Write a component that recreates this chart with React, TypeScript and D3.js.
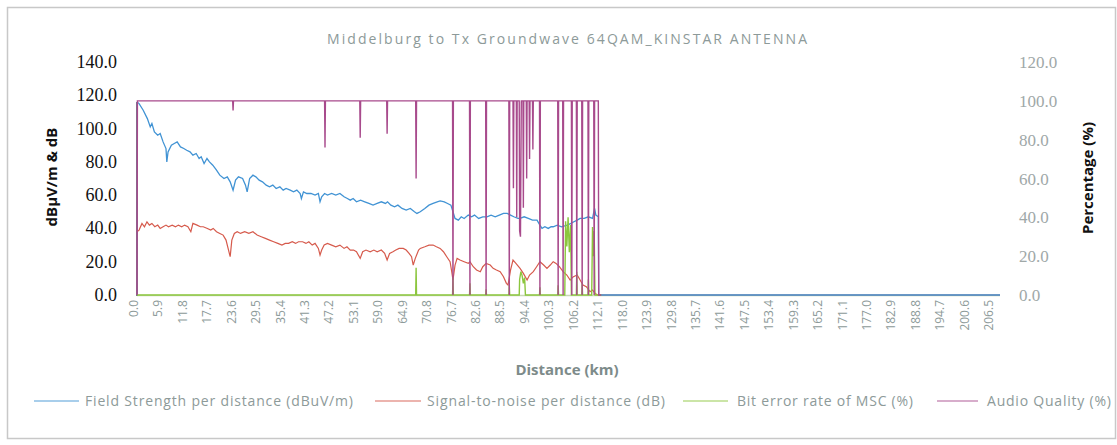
import React from "react";
import * as d3 from "d3";

const chartTitle = "Middelburg to Tx Groundwave 64QAM_KINSTAR ANTENNA";
const xTickLabels = ["0.0","5.9","11.8","17.7","23.6","29.5","35.4","41.3","47.2","53.1","59.0","64.9","70.8","76.7","82.6","88.5","94.4","100.3","106.2","112.1","118.0","123.9","129.8","135.7","141.6","147.5","153.4","159.3","165.2","171.1","177.0","182.9","188.8","194.7","200.6","206.5"];
const leftTicks = [0, 20, 40, 60, 80, 100, 120, 140];
const rightTicks = [0, 20, 40, 60, 80, 100, 120];
const xMax = 208.4;

// [distance km, dBuV/m]
const fieldStrength: [number, number][] = [
  [0,116],[0.5,115],[1.5,111],[2.5,106],[3.2,101],[3.6,103],[4.2,98],[5.0,96],[5.6,97],[6.3,92],[7.0,88],[7.2,80],[7.5,86],[8.3,90],[9.0,91],[9.7,92],[10.5,89],[11.3,88],[12.0,87],[12.8,86],[13.5,84],[14.3,85],[15.0,82],[15.5,83],[16.2,79],[16.9,82],[17.5,80],[18.3,78],[19.2,75],[20.0,72],[21.0,70],[21.8,71],[22.5,68],[23.2,63],[23.8,69],[24.5,71],[25.5,70],[26.2,66],[26.6,62],[27.2,70],[28.0,72],[28.7,71],[29.5,69],[30.3,68],[31.2,66],[32.0,65],[32.8,66],[33.6,64],[34.5,65],[35.3,63],[36.0,64],[37.0,63],[37.8,62],[38.6,63],[39.4,61],[39.7,58],[40.2,62],[41.0,61],[42.0,61],[43.0,60],[43.8,61],[44.2,56],[44.6,59],[45.3,61],[46.0,60],[47.0,61],[48.0,60],[49.0,61],[50.0,59],[50.8,58],[51.5,57],[52.2,58],[53.0,56],[54.0,57],[55.0,56],[56.0,55],[57.0,54],[58.0,55],[59.0,56],[60.0,55],[60.5,56],[61.3,54],[62.2,53],[63.0,54],[64.0,52],[65.0,51],[66.0,52],[67.0,50],[67.6,49],[68.4,50],[69.5,52],[70.5,54],[71.5,55],[72.5,56],[73.2,56.5],[74.2,56],[75.0,55],[75.8,54],[76.3,50],[76.8,46],[77.6,45],[78.3,47],[79.0,46],[80.0,48],[80.8,47],[81.5,48],[82.5,46],[83.5,47],[84.5,47],[85.5,48],[86.5,47],[87.5,48],[88.5,49],[89.4,49],[90.2,48],[91.0,47],[92.0,46],[92.5,46],[93.5,47],[94.5,46],[95.5,45],[96.6,45],[97.3,42],[97.8,40],[98.5,41],[99.3,40],[100.0,41],[100.5,41],[101.5,42],[102.5,41],[103.9,42],[104.8,43],[105.5,44],[106.3,45],[107.0,46],[108.0,46],[109.0,47],[110.0,46],[110.5,52],[110.8,48],[111.4,47],[111.5,0],[208.4,0]
];

// [distance km, dB]
const snr: [number, number][] = [
  [0,38],[0.5,39],[1.2,43],[1.8,41],[2.4,44],[3.0,42],[3.6,43],[4.3,41],[5.0,42],[5.6,40],[6.3,41],[7.0,42],[7.6,41],[8.5,42],[9.3,41],[10.0,42],[10.8,41],[11.5,42],[12.3,41],[13.0,38],[13.5,43],[14.5,42],[15.3,41],[16.0,41],[17.0,40],[17.8,39],[18.4,40],[19.2,38],[20.0,37],[20.8,36],[21.5,33],[22.0,28],[22.5,23],[22.9,33],[23.5,37],[24.2,38],[25.0,37],[26.0,38],[27.0,37],[28.0,38],[29.0,36],[30.0,35],[31.0,34],[32.0,33],[33.0,32],[34.0,31],[35.0,30],[35.8,31],[36.6,31],[37.5,32],[38.3,31],[39.0,32],[40.0,32],[40.8,31],[41.5,32],[42.3,30],[43.0,31],[43.8,28],[44.2,24],[44.6,27],[45.2,30],[46.0,31],[47.0,30],[48.0,29],[49.0,30],[50.0,28],[50.7,29],[51.5,27],[52.3,27],[53.0,26],[53.9,22],[54.5,26],[55.3,27],[56.3,26],[57.2,27],[58.0,26],[59.0,27],[59.8,25],[60.4,21],[61.0,25],[61.8,26],[62.5,27],[63.3,28],[64.3,28],[65.0,27],[65.7,25],[66.3,23],[66.7,18],[67.2,22],[68.0,27],[68.4,28],[69.5,29],[70.5,30],[71.5,30],[72.3,29],[73.2,28],[74.0,26],[74.8,23],[75.6,20],[76.0,14],[76.3,9],[76.8,18],[77.3,22],[78.0,21],[79.0,20],[80.0,19],[80.4,20],[81.2,17],[82.0,15],[82.9,14],[83.5,17],[84.3,19],[85.3,18],[86.0,16],[86.8,15],[87.7,14],[88.5,11],[89.2,7],[89.6,6],[90.2,15],[90.8,21],[91.5,19],[92.5,16],[93.3,13],[94.2,9],[94.8,12],[95.7,14],[96.5,17],[97.3,20],[98.2,18],[99.0,16],[99.8,18],[100.5,20],[101.2,19],[102.0,17],[102.9,14],[103.8,12],[104.6,9],[105.4,11],[106.3,12],[107.0,9],[107.7,6],[108.5,5],[109.4,2],[110.0,3],[110.6,1],[111.2,0],[208.4,0]
];

// [distance km, %]
const ber: [number, number][] = [
  [0,0],[67.3,0],[67.4,14],[67.5,0],[76.2,0],[76.3,9],[76.4,0],[80.3,0],[80.4,6],[80.5,0],[84.2,0],[84.3,3],[84.4,0],[89.8,0],[89.9,5],[90.0,0],[92.3,0],[92.4,8],[92.7,12],[93.0,10],[93.3,6],[93.6,9],[93.8,0],[97.2,0],[97.3,4],[97.4,0],[101.6,0],[101.7,5],[101.8,0],[103.3,0],[103.5,38],[103.8,25],[104.1,40],[104.4,22],[104.7,36],[104.9,0],[106.1,0],[106.2,12],[106.3,0],[107.4,0],[107.5,6],[107.6,0],[108.9,0],[109.0,8],[109.1,0],[109.8,0],[110.0,35],[110.2,20],[110.4,33],[110.6,0],[112.1,0]
];

// [distance km, %]
const audioQuality: [number, number][] = [
  [0,0],[0.1,100],[23.1,100],[23.2,95],[23.3,100],[45.3,100],[45.4,76],[45.5,100],[53.8,100],[53.9,81],[54.0,100],[60.3,100],[60.4,83],[60.5,100],[67.3,100],[67.4,60],[67.5,100],[76.2,100],[76.3,0],[76.4,100],[80.3,100],[80.4,0],[80.5,100],[84.2,100],[84.3,0],[84.4,100],[89.8,100],[89.9,0],[90.0,100],[90.8,100],[90.9,55],[91.0,100],[91.6,100],[91.7,40],[91.8,100],[92.3,100],[92.4,33],[92.6,30],[92.8,100],[93.2,100],[93.3,45],[93.4,100],[94.0,100],[94.1,60],[94.2,100],[94.7,100],[94.8,70],[94.9,100],[95.5,100],[95.6,75],[95.7,100],[97.2,100],[97.3,0],[97.4,100],[101.6,100],[101.7,0],[101.8,100],[102.8,100],[102.9,0],[103.0,100],[104.9,100],[105.0,0],[105.1,100],[106.1,100],[106.2,0],[106.3,100],[107.4,100],[107.5,0],[107.6,100],[108.9,100],[109.0,0],[109.1,100],[110.3,100],[110.4,0],[110.5,100],[111.4,100],[111.5,0],[112.1,0]
];

const seriesNames = ["Field Strength per distance (dBuV/m)", "Signal-to-noise per distance (dB)", "Bit error rate of MSC (%)", "Audio Quality (%)"];
const seriesColors = ["#4193d4", "#d65a4c", "#8cc63e", "#a84a8c"];

export default function App() {
  const W = 1117, H = 445;
  const x = d3.scaleLinear().domain([0, xMax]).range([137, 1000]);
  const yL = d3.scaleLinear().domain([0, 140]).range([295, 62]);
  const yR = d3.scaleLinear().domain([0, 120]).range([295, 62]);
  const lineL = d3.line<[number, number]>().x(d => x(d[0])).y(d => yL(d[1]));
  const lineR = d3.line<[number, number]>().x(d => x(d[0])).y(d => yR(d[1]));
  const gray = "#8d9a99";
  const legendItems = [
    { lx: 34, lw: 45, tx: 85, tl: 268 },
    { lx: 375, lw: 46, tx: 427, tl: 238 },
    { lx: 683, lw: 45, tx: 737, tl: 176 },
    { lx: 937, lw: 41, tx: 987, tl: 124 },
  ];
  return (
    <svg width={W} height={H} style={{ position: "absolute", left: 0, top: 0, background: "#fff" }}>
      <rect x={7.5} y={7.5} width={1108} height={431} fill="#fff" stroke="#c8c8c8" strokeWidth={1.5} />
      <text x={567} y={44} textAnchor="middle" fontFamily="Open Sans" fontSize={14} fill={gray} textLength={480} lengthAdjust="spacing">{chartTitle}</text>

      {/* left axis ticks */}
      {leftTicks.map(t => (
        <text key={"l" + t} x={117} y={yL(t) + 6} textAnchor="end" fontFamily="Liberation Serif" fontSize={18} fill="#111">{t.toFixed(1)}</text>
      ))}
      {rightTicks.map(t => (
        <text key={"r" + t} x={1019} y={yR(t) + 6} textAnchor="start" fontFamily="Liberation Serif" fontSize={17} fill="#a0a8a8">{t.toFixed(1)}</text>
      ))}
      <text transform={`translate(57,177) rotate(-90)`} textAnchor="middle" fontFamily="Open Sans" fontWeight="bold" fontSize={15} fill="#111">dBµV/m &amp; dB</text>
      <text transform={`translate(1093,178) rotate(-90)`} textAnchor="middle" fontFamily="Open Sans" fontWeight="bold" fontSize={15} fill="#111">Percentage (%)</text>

      {/* x axis labels */}
      {xTickLabels.map(l => (
        <text key={"x" + l} transform={`translate(${x(parseFloat(l)) + 1},300) rotate(-90)`} textAnchor="end" fontFamily="Open Sans" fontSize={12} fill={gray}>{l}</text>
      ))}
      <text x={567} y={375} textAnchor="middle" fontFamily="Open Sans" fontWeight="bold" fontSize={15} fill="#7d8b8a">Distance (km)</text>

      {/* axes */}
      <line x1={137} x2={1000} y1={295.5} y2={295.5} stroke="#c9d8b8" strokeWidth={1.5} />
      <line x1={137} x2={137} y1={102} y2={296} stroke="#4a4a6a" strokeWidth={1.5} />

      {/* series */}
      <path d={lineL(snr) || ""} fill="none" stroke={seriesColors[1]} strokeWidth={1.2} />
      <path d={lineL(fieldStrength) || ""} fill="none" stroke={seriesColors[0]} strokeWidth={1.3} />
      <path d={lineR(ber) || ""} fill="none" stroke={seriesColors[2]} strokeWidth={1.4} />
      <path d={lineR(audioQuality) || ""} fill="none" stroke={seriesColors[3]} strokeWidth={1.4} />

      {/* legend */}
      {legendItems.map((it, i) => (
        <g key={"lg" + i}>
          <line x1={it.lx} x2={it.lx + it.lw} y1={401} y2={401} stroke={seriesColors[i]} strokeWidth={1.5} opacity={0.6} />
          <text x={it.tx} y={406} fontFamily="Open Sans" fontSize={14} fill={gray} textLength={it.tl} lengthAdjust="spacing">{seriesNames[i]}</text>
        </g>
      ))}
    </svg>
  );
}
